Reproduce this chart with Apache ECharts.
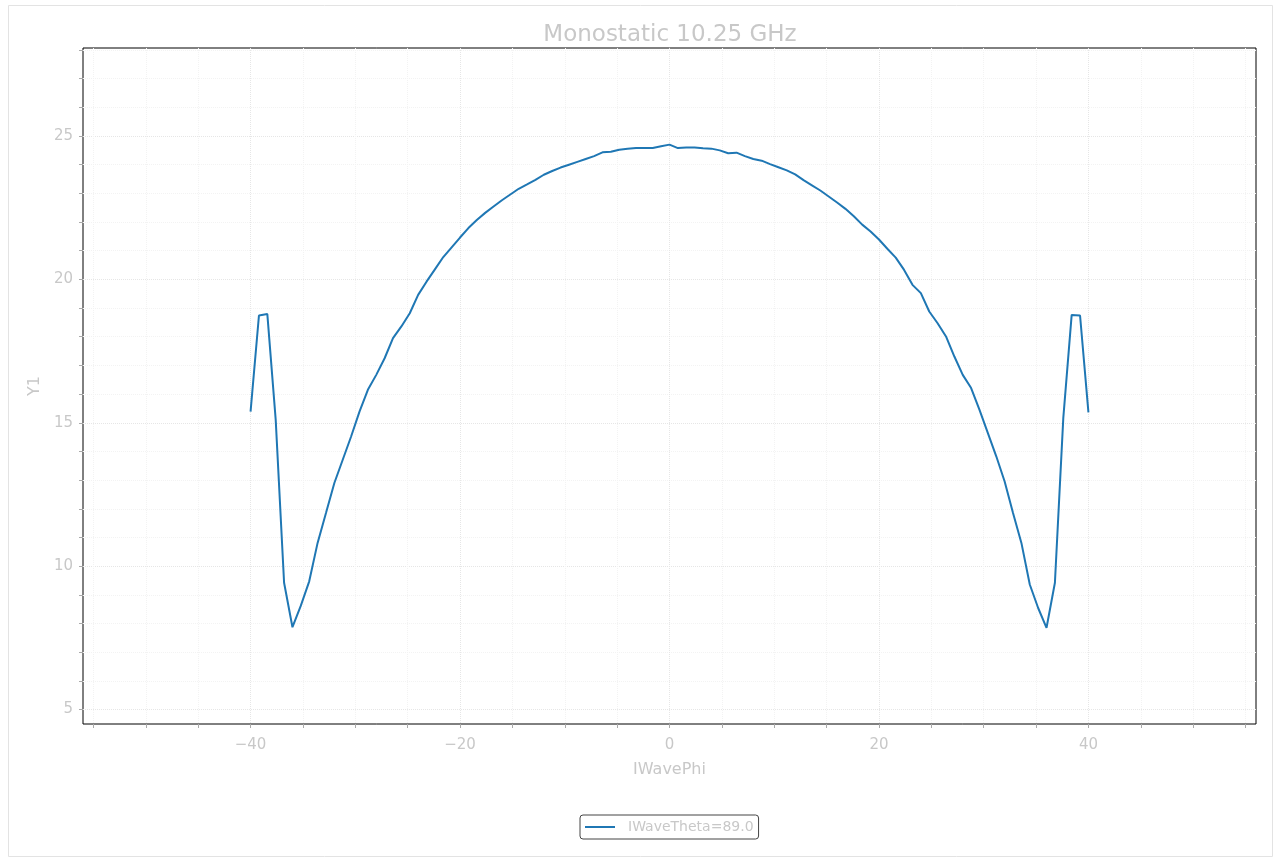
<!DOCTYPE html>
<html>
<head>
<meta charset="utf-8">
<title>Monostatic 10.25 GHz</title>
<script src="https://cdn.jsdelivr.net/npm/echarts@6/dist/echarts.min.js"></script>
<style>
html, body { margin: 0; padding: 0; background: #fff; }
#chart { width: 1275px; height: 858px; }
</style>
</head>
<body>
<div id="chart"></div>
<script>
// IWavePhi samples (deg)
var phi = [
  -40, -39.2, -38.4, -37.6, -36.8, -36, -35.2, -34.4, -33.6, -32.8,
  -32, -31.2, -30.4, -29.6, -28.8, -28, -27.2, -26.4, -25.6, -24.8,
  -24, -23.2, -22.4, -21.6, -20.8, -20, -19.2, -18.4, -17.6, -16.8,
  -16, -15.2, -14.4, -13.6, -12.8, -12, -11.2, -10.4, -9.6, -8.8,
  -8, -7.2, -6.4, -5.6, -4.8, -4, -3.2, -2.4, -1.6, -0.8,
  0,
  0.8, 1.6, 2.4, 3.2, 4, 4.8, 5.6, 6.4, 7.2, 8,
  8.8, 9.6, 10.4, 11.2, 12, 12.8, 13.6, 14.4, 15.2, 16,
  16.8, 17.6, 18.4, 19.2, 20, 20.8, 21.6, 22.4, 23.2, 24,
  24.8, 25.6, 26.4, 27.2, 28, 28.8, 29.6, 30.4, 31.2, 32,
  32.8, 33.6, 34.4, 35.2, 36, 36.8, 37.6, 38.4, 39.2, 40
];
// Y1 for IWaveTheta=89.0
var y1 = [
  15.39, 18.74, 18.79, 15.10, 9.42, 7.87, 8.62, 9.47, 10.81, 11.85,
  12.90, 13.71, 14.52, 15.39, 16.15, 16.67, 17.25, 17.95, 18.36, 18.82,
  19.46, 19.92, 20.35, 20.78, 21.12, 21.46, 21.79, 22.07, 22.32, 22.54,
  22.76, 22.96, 23.16, 23.31, 23.47, 23.65, 23.78, 23.90, 24.00, 24.10,
  24.20, 24.30, 24.43, 24.45, 24.52, 24.56, 24.58, 24.58, 24.58, 24.64,
  24.70,
  24.58, 24.60, 24.60, 24.57, 24.56, 24.50, 24.40, 24.42, 24.30, 24.20,
  24.14, 24.02, 23.91, 23.80, 23.66, 23.46, 23.28, 23.10, 22.89, 22.68,
  22.46, 22.20, 21.91, 21.67, 21.39, 21.07, 20.76, 20.33, 19.81, 19.52,
  18.88, 18.47, 18.01, 17.31, 16.67, 16.21, 15.45, 14.64, 13.83, 12.95,
  11.85, 10.81, 9.36, 8.54, 7.85, 9.42, 15.16, 18.76, 18.74, 15.36
];

// tick labels and tick/grid positions
var xLabels = [-40, -20, 0, 20, 40];
var xTicks = [-55, -50, -45, -40, -35, -30, -25, -20, -15, -10, -5, 0, 5, 10, 15, 20, 25, 30, 35, 40, 45, 50, 55];
var yLabels = [5, 10, 15, 20, 25];
var yTicks = [5, 6, 7, 8, 9, 10, 11, 12, 13, 14, 15, 16, 17, 18, 19, 20, 21, 22, 23, 24, 25, 26, 27, 28];

var seriesName = 'IWaveTheta=89.0';
var txt = '#c8c8c8';
var font = 'DejaVu Sans';
var gMajor = '#e6e6e6';
var gMinor = '#f3f3f3';

var chart = echarts.init(document.getElementById('chart'));

var pts = phi.map(function (p, i) { return [p, y1[i]]; });

// matplotlib style minus sign
function fmt(v) { return String(v).replace('-', '\u2212'); }

var option = {
  backgroundColor: '#fff',
  animation: false,
  title: {
    text: 'Monostatic 10.25 GHz',
    left: 665,
    textAlign: 'center',
    top: 19,
    textStyle: { color: txt, fontFamily: font, fontSize: 23, fontWeight: 'normal' }
  },
  graphic: [{
    type: 'rect',
    shape: { x: 8.5, y: 5.5, width: 1264, height: 851 },
    style: { fill: 'none', stroke: '#e3e3e3', lineWidth: 1 },
    silent: true
  }],
  legend: {
    left: 580,
    top: 815,
    padding: [5, 5, 5, 5],
    itemWidth: 30,
    itemHeight: 14,
    borderColor: '#444',
    borderWidth: 1,
    borderRadius: 3,
    textStyle: { color: txt, fontFamily: font, fontSize: 14, padding: [0, 0, 0, 8] },
    data: [{ name: seriesName, icon: 'path://M0,0H30V2H0Z' }]
  },
  grid: {
    left: 83, right: 19, top: 48, bottom: 134,
    show: true, borderColor: '#000', borderWidth: 1, backgroundColor: 'transparent'
  },
  xAxis: {
    type: 'value', min: -56, max: 56,
    name: 'IWavePhi', nameLocation: 'middle', nameGap: 38,
    nameTextStyle: { color: txt, fontFamily: font, fontSize: 16 },
    axisLine: { show: false, onZero: false },
    axisTick: { show: true, length: 4, customValues: xTicks, lineStyle: { color: '#aaa' } },
    axisLabel: { customValues: xLabels, formatter: fmt, color: txt, fontFamily: font, fontSize: 15, margin: 14 },
    splitLine: {
      show: true,
      lineStyle: { color: [gMinor, gMinor, gMinor, gMajor], type: 'dotted', width: 1 }
    }
  },
  yAxis: {
    type: 'value', min: 4.494, max: 28.07,
    name: 'Y1', nameLocation: 'middle', nameGap: 39,
    nameTextStyle: { color: txt, fontFamily: font, fontSize: 16 },
    axisLine: { show: false, onZero: false },
    axisTick: { show: true, length: 4, customValues: yTicks, lineStyle: { color: '#aaa' } },
    axisLabel: { customValues: yLabels, color: txt, fontFamily: font, fontSize: 15, margin: 10 },
    splitLine: {
      show: true,
      lineStyle: { color: [gMajor, gMinor, gMinor, gMinor, gMinor], type: 'dotted', width: 1 }
    }
  },
  series: [{
    name: seriesName,
    type: 'line',
    data: pts,
    symbol: 'none',
    color: '#1f77b4',
    lineStyle: { color: '#1f77b4', width: 2 }
  }]
};

chart.setOption(option);
</script>
</body>
</html>
